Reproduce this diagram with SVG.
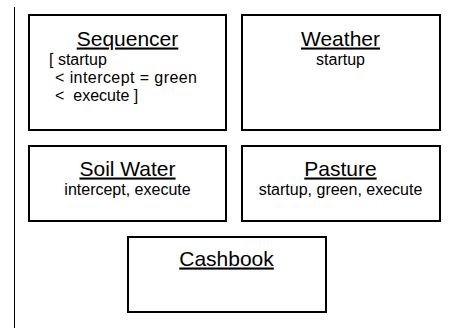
<svg xmlns="http://www.w3.org/2000/svg" width="453" height="328" viewBox="0 0 453 328">
<style>
.box{fill:#fff;stroke:#000;stroke-width:2}
.title{font-family:"Liberation Sans",Arial,sans-serif;font-size:21px;text-anchor:middle;text-decoration:underline;fill:#000}
.sub{font-family:"Liberation Sans",Arial,sans-serif;font-size:16px;text-anchor:middle;fill:#000}
.body{font-family:"Liberation Sans",Arial,sans-serif;font-size:16px;fill:#000}
</style>
<rect width="453" height="328" fill="#fff"/>
<g id="connectors">
<line x1="14.5" y1="7" x2="14.5" y2="328" stroke="#000" stroke-width="1"/>
</g>
<g id="sequencer">
<rect class="box" x="29" y="15" width="197" height="115"/>
<text class="title" x="127.5" y="45.5">Sequencer</text>
<text class="body" x="49" y="64.5" xml:space="preserve">[ startup</text>
<text class="body" x="55" y="82.5" textLength="142" lengthAdjust="spacing">&lt; intercept = green</text>
<text class="body" x="55" y="100.5" xml:space="preserve">&lt;  execute ]</text>
</g>
<g id="weather">
<rect class="box" x="242" y="15" width="198" height="115"/>
<text class="title" x="340.5" y="45.5">Weather</text>
<text class="sub" x="340.5" y="64.5">startup</text>
</g>
<g id="soilwater">
<rect class="box" x="29" y="146" width="197" height="75"/>
<text class="title" x="127.5" y="175.5">Soil Water</text>
<text class="sub" x="127.5" y="194.5">intercept, execute</text>
</g>
<g id="pasture">
<rect class="box" x="242" y="146" width="198" height="75"/>
<text class="title" x="340.5" y="175.5">Pasture</text>
<text class="sub" x="340.5" y="194.5">startup, green, execute</text>
</g>
<g id="cashbook">
<rect class="box" x="128" y="237" width="198" height="75"/>
<text class="title" x="226.5" y="265.5">Cashbook</text>
</g>
</svg>
